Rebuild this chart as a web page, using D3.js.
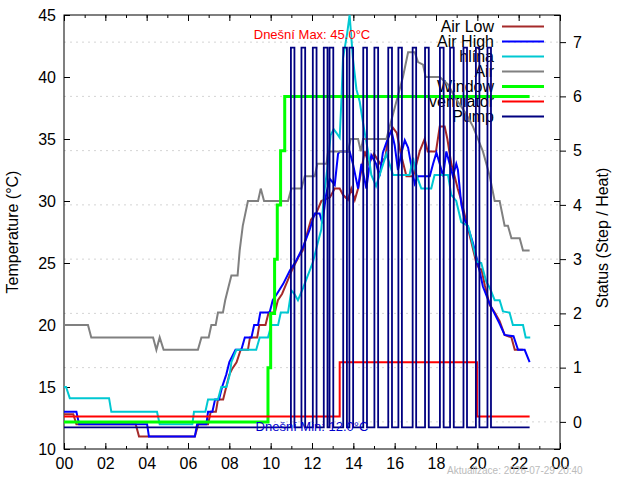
<!DOCTYPE html>
<html>
<head>
<meta charset="utf-8">
<script src="https://cdn.jsdelivr.net/npm/d3@7"></script>
<style>
body { margin: 0; background: #fff; }
svg { font-family: "Liberation Sans", Arial, sans-serif; }
</style>
</head>
<body>
<div id="chart"></div>
<script>
// ---- data (hours of day, temperature in °C) ----
var hourTicks = [0,2,4,6,8,10,12,14,16,18,20,22,24];
var hourMinor = d3.range(0,25,1);
var tempTicks = [10,15,20,25,30,35,40,45];
var statusTicks = [0,1,2,3,4,5,6,7];

var airLow = [[0,12.8],[0.45,12.8],[0.6,12],[3.47,12],[3.63,11],[6.33,11],[6.5,12],[6.97,12],[7.1,13],[7.35,13],[7.45,14],[7.7,14],[7.85,15],[8.0,16],[8.15,16.5],[8.35,17],[8.55,18],[8.9,18],[9.0,19],[9.35,19],[9.45,20],[9.75,20],[9.9,21],[10.2,21],[10.35,22],[10.55,22.5],[10.8,23.5],[11.05,24.5],[11.35,25.5],[11.55,26],[11.7,27],[11.95,28.5],[12.2,29],[12.45,30],[12.87,30.3],[13.1,31],[13.34,31],[13.5,30.5],[13.74,30.1],[13.9,31],[14.07,30.1],[14.23,31],[14.55,34],[14.75,33],[15.0,33.8],[15.3,33],[15.55,33.5],[15.68,35.2],[15.92,35.9],[16.1,35.5],[16.3,33.8],[16.57,32],[16.9,32],[17.21,34],[17.45,35],[17.6,34],[18.0,34],[18.18,36],[18.42,36],[18.55,35],[18.74,33],[18.9,32],[19.05,31],[19.23,30],[19.47,28.3],[19.71,26.7],[19.95,25],[20.1,24.5],[20.2,24.5],[20.36,23.2],[20.6,21.6],[20.84,21],[21.08,20.3],[21.32,19.2],[21.65,19],[21.81,18],[22.2,18]];

var airHigh = [[0,13],[0.6,13],[0.73,12],[4.02,12],[4.11,11],[6.33,11],[6.44,12],[6.89,12],[6.97,13],[7.18,13],[7.31,14],[7.5,14],[7.65,15],[7.85,16],[8.0,17],[8.15,17.5],[8.3,18],[8.58,18],[8.75,19],[9.07,19],[9.2,20],[9.39,20],[9.5,21],[9.95,21],[10.1,22],[10.3,22.5],[10.6,23.3],[10.93,24.4],[11.24,25.2],[11.57,26.3],[11.89,27.7],[12.13,29],[12.37,29],[12.5,28.2],[12.69,30.6],[12.86,31.8],[13.1,31.3],[13.26,33.8],[13.34,34],[13.82,34],[13.98,33],[14.23,31],[14.39,33],[14.63,31],[14.79,33],[14.87,33.7],[15.1,33],[15.27,32],[15.43,33.9],[15.6,34.7],[15.84,35.7],[16.0,34.5],[16.16,32.5],[16.33,33.9],[16.49,34.9],[16.65,34.3],[16.81,32.8],[16.97,31.4],[17.13,32],[17.7,32],[17.86,33],[18.02,33.9],[18.18,33],[18.34,32],[18.5,34],[18.66,33],[18.82,32],[18.98,33],[19.06,32.5],[19.22,29.8],[19.38,28.5],[19.55,27.9],[19.79,26.6],[20.03,25],[20.27,23.1],[20.6,21.7],[20.84,20.9],[21.08,20.1],[21.32,19.2],[21.75,19.1],[21.97,18],[22.29,18],[22.53,17]];

var hlina = [[0,15],[0.1,15],[0.28,14.1],[2.18,14.1],[2.29,13],[4.5,13],[4.63,12],[6.21,12],[6.29,13],[6.84,13],[6.97,14],[7.45,14],[7.61,15],[7.86,15],[8.02,16],[8.1,17],[8.34,18],[9.3,18],[9.47,19],[9.87,19],[10.03,20],[10.36,20],[10.49,21],[10.84,21],[11.0,22.8],[11.15,22.5],[11.32,22],[11.57,23],[11.8,24],[12.05,25.1],[12.29,26.7],[12.45,27.7],[12.58,30.5],[12.74,32.6],[12.9,35.3],[13.05,35.8],[13.18,35.5],[13.34,35.1],[13.42,38],[13.5,41.5],[13.7,43.5],[13.82,45],[13.98,41.5],[14.15,39],[14.31,38],[14.5,36],[14.71,34],[14.87,32.1],[15.1,31.2],[15.35,32.5],[15.6,33.8],[15.92,32.1],[16.72,32.1],[16.89,33.5],[17.05,32.1],[17.29,31],[17.77,31],[17.93,32.1],[18.58,32.1],[18.74,30.5],[18.98,30],[19.22,28.3],[19.55,28],[19.63,27.5],[19.98,25.1],[20.19,25],[20.43,23.5],[20.6,23],[20.84,22],[21.08,22],[21.24,21.1],[21.56,21],[21.72,20],[22.21,20],[22.34,19],[22.56,19]];

var airOut = [[0,20],[1.16,20],[1.32,19],[4.31,19],[4.47,18],[4.63,19],[4.82,18],[6.48,18],[6.65,19],[7.0,19],[7.13,20],[7.34,20],[7.45,21],[7.69,21],[7.8,22],[7.95,23],[8.1,24],[8.4,24],[8.5,26],[8.65,28],[8.9,30],[9.39,30],[9.52,31],[9.68,30],[10.84,30],[11.0,31],[11.49,31],[11.65,32],[12.13,32],[12.26,33],[12.7,33],[12.78,34],[13.74,34],[13.87,35],[14.23,35],[14.36,34],[14.47,35],[15.6,35],[15.76,36],[16.08,38],[16.4,40],[16.65,42],[16.97,42],[17.13,41.2],[17.37,41],[17.5,40],[18.18,40],[18.58,39.4],[18.9,38.4],[19.47,37],[19.79,36],[20.03,35],[20.27,34],[20.52,32.5],[20.6,32],[20.84,30],[21.08,30],[21.32,28],[21.48,28],[21.65,27],[22.05,27],[22.21,26],[22.53,26]];

// status series, [hour, step]
var windowSteps = [[0,0],[9.87,1],[10.0,2],[10.19,3],[10.32,4],[10.48,5],[10.68,6],[22.53,6]];
var ventSteps = [[0,0],[13.34,1],[19.98,0],[22.53,0]];
var pumpOn = [[10.98,11.15],[11.49,11.67],[12.04,12.22],[12.57,12.75],[12.85,13.03],[13.51,13.69],[13.81,13.99],[14.48,14.66],[15.02,15.2],[15.69,15.87],[16.18,16.35],[16.87,17.04],[17.47,17.65],[18.19,18.37],[18.68,18.86],[19.33,19.5],[19.93,20.1],[20.49,20.66]];
var lastHour = 22.53;

var legendNames = ["Air Low","Air High","hlína","Air","Window","ventilator","Pump"];
var legendColors = ["#a52a2a","#0000ff","#00c8d2","#808080","#00ff00","#ff0000","#000080"];
var legendWidths = [2,2,2,2,3,2,2];

var svg = d3.select("#chart")
            .append("svg")
            .attr("width",640)
            .attr("height",480);

var x = d3.scaleLinear().domain([0,24]).range([64,560]);
var yT = d3.scaleLinear().domain([10,45]).range([449,15]);
var yS = d3.scaleLinear().domain([-0.5,7.5]).range([449,15]);

// grid on status axis
svg.selectAll(".grid")
   .data(statusTicks)
   .enter()
   .append("line")
   .attr("x1",64).attr("x2",560)
   .attr("y1",function(d){ return yS(d); })
   .attr("y2",function(d){ return yS(d); })
   .style("stroke","#d4d4d4")
   .style("stroke-dasharray","2,4");

// axes
function styleAxis(g){
    g.select(".domain").remove();
    g.selectAll("text").style("font-size","16px").style("fill","#000").style("font-family","Liberation Sans, Arial, sans-serif");
    g.selectAll("line").style("stroke","#000");
}
svg.append("g").attr("transform","translate(0,449)")
   .call(d3.axisBottom(x).tickValues(hourTicks).tickSize(-6).tickPadding(8.5)
   .tickFormat(function(d){ return d3.format("02d")(d % 24); }))
   .call(styleAxis);
svg.append("g").attr("transform","translate(0,449)")
   .call(d3.axisBottom(x).tickValues(hourMinor).tickSize(-3).tickFormat(""))
   .call(styleAxis);
svg.append("g").attr("transform","translate(0,15)")
   .call(d3.axisTop(x).tickValues(hourTicks).tickSize(-6).tickFormat(""))
   .call(styleAxis);
svg.append("g").attr("transform","translate(0,15)")
   .call(d3.axisTop(x).tickValues(hourMinor).tickSize(-3).tickFormat(""))
   .call(styleAxis);
svg.append("g").attr("transform","translate(64,0)")
   .call(d3.axisLeft(yT).tickValues(tempTicks).tickSize(-6).tickPadding(8))
   .call(styleAxis);
svg.append("g").attr("transform","translate(560,0)")
   .call(d3.axisRight(yT).tickValues(tempTicks).tickSize(-6).tickFormat(""))
   .call(styleAxis);
svg.append("g").attr("transform","translate(560,0)")
   .call(d3.axisRight(yS).tickValues(statusTicks).tickSize(6).tickPadding(7))
   .call(styleAxis);

svg.append("rect").attr("x",64).attr("y",15).attr("width",496).attr("height",434)
   .style("fill","none").style("stroke","#000").style("stroke-width",1);

// axis titles
svg.append("text").attr("transform","translate(18,232) rotate(-90)")
   .attr("text-anchor","middle").style("font-size","16px").text("Temperature (°C)");
svg.append("text").attr("transform","translate(608,238) rotate(-90)")
   .attr("text-anchor","middle").style("font-size","16px").text("Status (Step / Heat)");

// legend (drawn before the series, like gnuplot)
var legend = svg.selectAll(".key")
                .data(legendNames)
                .enter()
                .append("g");
legend.append("text")
      .attr("x",494)
      .attr("y",function(d,i){ return 26.5 + i*15; })
      .attr("dy","0.35em")
      .attr("text-anchor","end")
      .style("font-size","16px")
      .text(function(d){ return d; });
legend.append("line")
      .attr("x1",502).attr("x2",544)
      .attr("y1",function(d,i){ return 26.5 + i*15; })
      .attr("y2",function(d,i){ return 26.5 + i*15; })
      .style("stroke",function(d,i){ return legendColors[i]; })
      .style("stroke-width",function(d,i){ return legendWidths[i]; });

// temperature series
var tempLine = d3.line()
                 .x(function(d){ return x(d[0]); })
                 .y(function(d){ return yT(d[1]); });
[airLow, airHigh, hlina, airOut].forEach(function(s,i){
    svg.append("path").attr("d",tempLine(s))
       .style("fill","none")
       .style("stroke",legendColors[i])
       .style("stroke-width",legendWidths[i]);
});

// status series
var windowLine = d3.line().curve(d3.curveStepAfter)
                   .x(function(d){ return x(d[0]); })
                   .y(function(d){ return yS(d[1]); });
svg.append("path").attr("d",windowLine(windowSteps))
   .style("fill","none").style("stroke",legendColors[4]).style("stroke-width",3);

var ventLine = d3.line().curve(d3.curveStepAfter)
                 .x(function(d){ return x(d[0]); })
                 .y(function(d){ return yS(d[1] + 0.1); });
svg.append("path").attr("d",ventLine(ventSteps))
   .style("fill","none").style("stroke",legendColors[5]).style("stroke-width",2);

var pumpPoints = [[0,0]];
pumpOn.forEach(function(p){ pumpPoints.push([p[0],1]); pumpPoints.push([p[1],0]); });
pumpPoints.push([lastHour,0]);
var pumpLine = d3.line().curve(d3.curveStepAfter)
                 .x(function(d){ return x(d[0]); })
                 .y(function(d){ return yS(d[1] ? 6.9 : -0.1); });
svg.append("path").attr("d",pumpLine(pumpPoints))
   .style("fill","none").style("stroke",legendColors[6]).style("stroke-width",1.8);

// labels
svg.append("text").attr("x",x(12)).attr("y",yT(43.4)).attr("dy","0.35em")
   .attr("text-anchor","middle").style("font-size","13px").style("fill","#ff0000")
   .text("Dnešní Max: 45.0°C");
svg.append("text").attr("x",x(12)).attr("y",yT(11.8)).attr("dy","0.35em")
   .attr("text-anchor","middle").style("font-size","13px").style("fill","#0000cc")
   .text("Dnešní Min: 12.0°C");
svg.append("text").attr("x",447).attr("y",474)
   .style("font-size","10px").style("fill","#bbbbbb")
   .text("Aktualizace: 2026-07-29 20:40");
</script>
</body>
</html>
